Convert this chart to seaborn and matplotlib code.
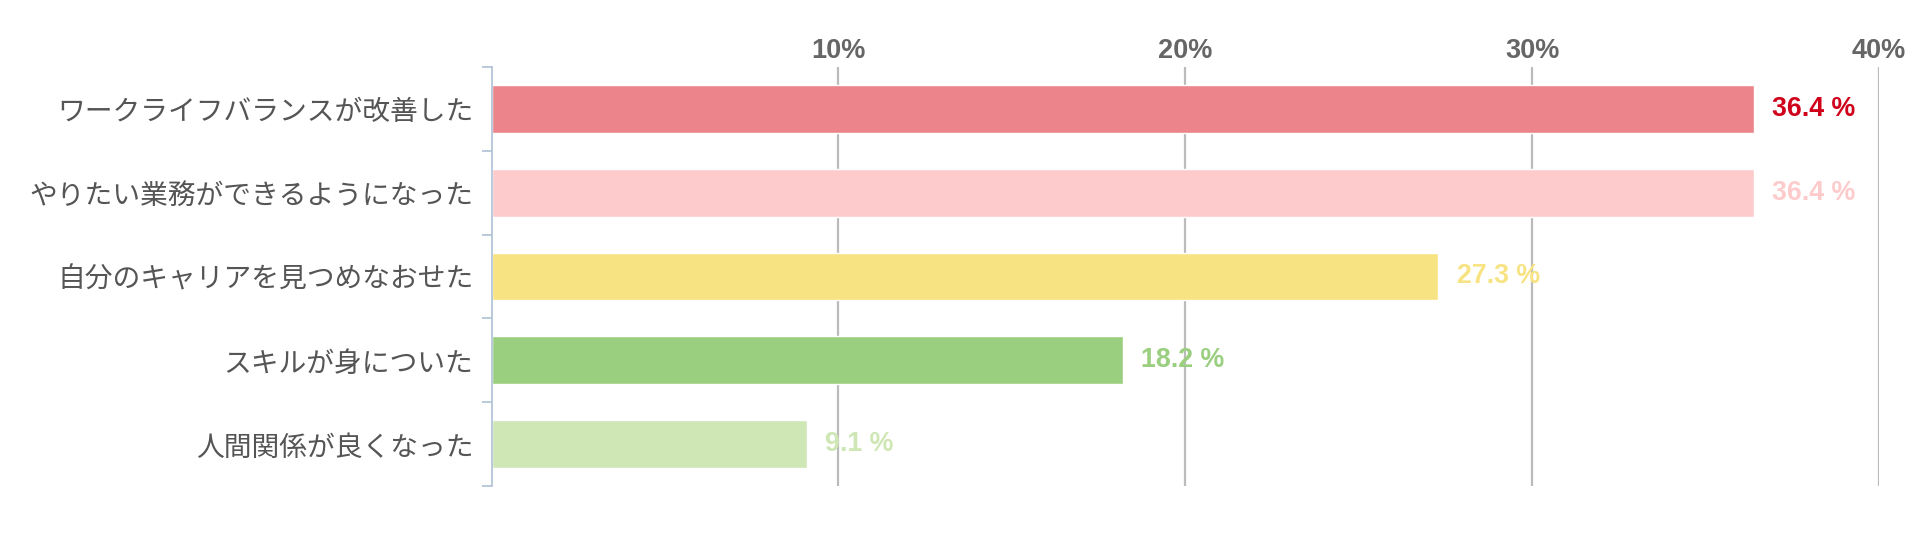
import pandas as pd
import seaborn as sns
import matplotlib.pyplot as plt
from matplotlib.ticker import FixedLocator

categories = [
    "ワークライフバランスが改善した",
    "やりたい業務ができるようになった",
    "自分のキャリアを見つめなおせた",
    "スキルが身についた",
    "人間関係が良くなった",
]
values = [36.4, 36.4, 27.3, 18.2, 9.1]
bar_colors = ["#ec858b", "#fecbcc", "#f8e383", "#9bcf80", "#cee7b5"]
label_colors = ["#d0021b", "#fecbcc", "#f8e383", "#9bcf80", "#cee7b5"]
x_ticks = [10, 20, 30, 40]
x_tick_labels = ["10%", "20%", "30%", "40%"]


def main():
    df = pd.DataFrame({"item": categories, "pct": values})

    sns.set_style("white")
    plt.rcParams["font.family"] = ["Noto Sans CJK JP", "DejaVu Sans"]

    fig = plt.figure(figsize=(19.23, 5.33), dpi=100)
    ax = fig.add_axes([0.2556, 0.0882, 0.9771 - 0.2556, 0.8743 - 0.0882])

    sns.barplot(data=df, x="pct", y="item", hue="item", palette=bar_colors,
                orient="h", width=0.57, legend=False, saturation=1, ax=ax)

    ax.set_xlim(0, 40)
    ax.set_ylim(len(categories) - 0.5, -0.5)
    ax.set_xlabel("")
    ax.set_ylabel("")

    # x ticks on top, vertical grid lines
    ax.xaxis.tick_top()
    ax.set_xticks(x_ticks)
    ax.set_xticklabels(x_tick_labels, fontsize=19.5, fontweight="bold",
                       color="#666666", family=["Liberation Sans", "DejaVu Sans"])
    ax.tick_params(axis="x", length=0, pad=2)
    ax.grid(axis="x", color="#bbbbbb", linewidth=1.6)
    ax.grid(axis="y", visible=False)
    ax.set_axisbelow(True)

    # y axis: labels at centers, small ticks on the category boundaries
    ax.tick_params(axis="y", which="major", length=0, pad=13,
                   labelsize=20.0, labelcolor="#555555")
    ax.yaxis.set_minor_locator(FixedLocator([i - 0.5 for i in range(len(categories) + 1)]))
    ax.tick_params(axis="y", which="minor", length=7, width=1.3, color="#b5c6d9", left=True)

    for side in ["top", "right", "bottom"]:
        ax.spines[side].set_visible(False)
    ax.spines["left"].set_color("#b5c6d9")
    ax.spines["left"].set_linewidth(1.3)

    for container, col in zip(ax.containers, label_colors):
        ax.bar_label(container, labels=[f"{v:.1f} %" for v in container.datavalues],
                     padding=13, color=col, fontsize=19.3, fontweight="bold",
                     family=["Liberation Sans", "DejaVu Sans"])

    fig.savefig("out.png", dpi=100)
    plt.close(fig)


if __name__ == '__main__':
    main()
